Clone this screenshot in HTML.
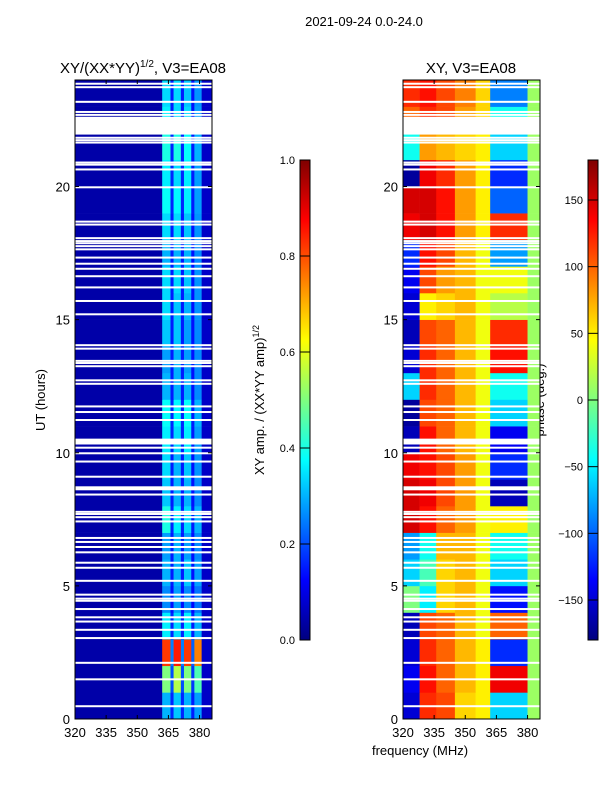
<!DOCTYPE html>
<html><head><meta charset="utf-8">
<style>
body{margin:0;background:#fff;}
svg{display:block;font-family:"Liberation Sans","DejaVu Sans",sans-serif;}
</style></head>
<body>
<svg id="fig" width="600" height="800" viewBox="0 0 600 800">
<defs>
<linearGradient id="jet" x1="0" y1="1" x2="0" y2="0">
<stop offset="0" stop-color="#00007f"/><stop offset="0.125" stop-color="#0000ff"/>
<stop offset="0.375" stop-color="#00ffff"/><stop offset="0.5" stop-color="#7fff7f"/>
<stop offset="0.625" stop-color="#ffff00"/><stop offset="0.875" stop-color="#ff0000"/>
<stop offset="1" stop-color="#7f0000"/>
</linearGradient>
</defs>
<text x="364" y="26" font-size="13" text-anchor="middle">2021-09-24 0.0-24.0</text>
<text x="143" y="73" font-size="15" text-anchor="middle">XY/(XX*YY)<tspan font-size="10" dy="-6">1/2</tspan><tspan dy="6">, V3=EA08</tspan></text>
<text x="471" y="73" font-size="15" text-anchor="middle">XY, V3=EA08</text>
<text x="45" y="400" font-size="13" text-anchor="middle" transform="rotate(-90 45 400)">UT (hours)</text>
<text x="420" y="755" font-size="13" text-anchor="middle">frequency (MHz)</text>
<text x="264" y="400" font-size="13" text-anchor="middle" transform="rotate(-90 264 400)">XY amp. / (XX*YY amp)<tspan font-size="9" dy="-5">1/2</tspan></text>
<text x="544" y="400" font-size="13" text-anchor="middle" transform="rotate(-90 544 400)">phase (deg.)</text>
<g id="g"></g>
</svg>
<script>
const freqTicks=[320,335,350,365,380];
const hourTicks=[0,5,10,15,20];
const ampTicks=[0.0,0.2,0.4,0.6,0.8,1.0];
const phaseTicks=[-150,-100,-50,0,50,100,150];
const ampFreqEdges=[320,362,366,367.5,371,372.5,376,377.5,381,386];
const ampRows=[
[0.04,0.3,0.16,0.32,0.16,0.3,0.15,0.28,0.07],
[0.04,0.5,0.2,0.55,0.2,0.5,0.18,0.45,0.07],
[0.04,0.82,0.25,0.85,0.25,0.82,0.22,0.75,0.07],
[0.04,0.36,0.16,0.34,0.16,0.36,0.15,0.3,0.07],
[0.04,0.26,0.14,0.28,0.14,0.26,0.13,0.24,0.07],
[0.04,0.3,0.15,0.3,0.15,0.32,0.14,0.28,0.07],
[0.04,0.28,0.15,0.3,0.15,0.28,0.14,0.26,0.07],
[0.04,0.4,0.16,0.36,0.16,0.34,0.15,0.3,0.07],
[0.04,0.32,0.15,0.3,0.15,0.3,0.14,0.26,0.07],
[0.04,0.34,0.15,0.3,0.15,0.32,0.14,0.27,0.07],
[0.04,0.36,0.16,0.34,0.16,0.36,0.15,0.28,0.07],
[0.04,0.38,0.16,0.37,0.16,0.38,0.15,0.3,0.07],
[0.04,0.3,0.15,0.3,0.15,0.3,0.14,0.26,0.07],
[0.04,0.28,0.15,0.3,0.15,0.28,0.14,0.26,0.07],
[0.04,0.32,0.15,0.32,0.15,0.28,0.14,0.26,0.07],
[0.04,0.34,0.15,0.32,0.15,0.3,0.14,0.27,0.07],
[0.04,0.34,0.15,0.34,0.15,0.32,0.14,0.27,0.07],
[0.04,0.3,0.15,0.3,0.15,0.3,0.14,0.26,0.07],
[0.04,0.34,0.15,0.34,0.15,0.32,0.14,0.27,0.07],
[0.04,0.38,0.16,0.37,0.16,0.36,0.15,0.28,0.07],
[0.04,0.36,0.16,0.34,0.16,0.36,0.15,0.28,0.07],
[0.04,0.4,0.16,0.4,0.16,0.38,0.15,0.3,0.07],
[0.04,0.36,0.15,0.34,0.15,0.34,0.14,0.28,0.07],
[0.04,0.34,0.15,0.34,0.15,0.32,0.14,0.27,0.07]];
const phaseFreqEdges=[320,328,336,345,355,362,380,386];
const phaseRows=[
[-150,120,110,60,50,-60,10],[-140,130,100,70,50,140,10],[-150,120,100,70,50,-120,10],
[-160,110,100,70,40,100,10],[0,-50,60,70,40,-130,10],[-60,-20,60,70,40,-60,10],
[-80,-40,70,70,40,-40,10],[150,130,100,80,40,50,10],[150,140,110,80,40,-160,10],
[140,130,110,80,40,-120,10],[-160,130,100,70,40,-140,10],[-170,110,100,70,40,-60,10],
[-60,120,100,70,40,-40,10],[-150,120,100,70,40,130,10],[-160,110,100,70,40,120,10],
[-150,50,60,70,40,20,10],[-140,110,80,70,40,40,10],[-120,130,110,70,40,-80,10],
[140,150,130,80,50,120,10],[150,150,130,80,50,-100,10],[-170,140,120,80,50,-120,10],
[-40,80,70,60,50,-60,10],[100,120,110,80,60,-40,10],[120,130,110,90,60,-90,10]];
const flaggedHours=[23.86,23.73,23.18,22.80,22.69,21.83,21.74,21.65,20.90,20.82,20.64,19.97,18.68,18.57,18.06,17.95,17.87,17.76,17.64,17.33,17.10,16.91,16.63,16.21,15.70,15.2,14.04,13.91,13.45,13.37,13.25,12.72,12.59,11.74,11.53,11.23,10.42,10.19,9.98,9.67,9.10,8.67,8.43,7.78,7.70,7.58,7.42,6.80,6.65,6.46,6.26,5.87,5.68,5.19,4.67,4.52,4.44,4.13,3.82,3.66,3.35,3.04,2.11,1.49,0.48];
const flaggedBlocks=[[21.95,22.62],[10.31,10.53],[8.59,8.74]];

const NS="http://www.w3.org/2000/svg";
const G=document.getElementById('g');
function mk(tag,attrs,parent){const e=document.createElementNS(NS,tag);for(const k in attrs)e.setAttribute(k,attrs[k]);(parent||G).appendChild(e);return e;}
const Y0=719,Y1=80;
const yH=h=>Y0-(h/24)*(Y0-Y1);
function xF(x0,f){return x0+(f-320)*(137/66);}
function jet(v){v=Math.max(0,Math.min(1,v));
 const r=Math.max(0,Math.min(1,1.5-Math.abs(4*v-3))),g=Math.max(0,Math.min(1,1.5-Math.abs(4*v-2))),b=Math.max(0,Math.min(1,1.5-Math.abs(4*v-1)));
 return `rgb(${Math.round(r*255)},${Math.round(g*255)},${Math.round(b*255)})`;}

function panel(x0,edges,rows,norm,name){
 const grp=mk('g',{});
 
 
 rows.forEach((row,hi)=>{row.forEach((v,fi)=>{
  const xa=xF(x0,edges[fi]),xb=xF(x0,edges[fi+1]);
  const r=mk('rect',{x:xa,y:yH(hi+1),width:xb-xa+0.3,height:yH(hi)-yH(hi+1)+0.3,fill:jet(norm(v))},grp);
  
  
 });});
 flaggedHours.forEach(h=>{const l=mk('rect',{x:x0,y:yH(h)-1,width:137,height:2,fill:'#fff'},grp);
  
  });
 flaggedBlocks.forEach(b=>{const l=mk('rect',{x:x0,y:yH(b[1]),width:137,height:yH(b[0])-yH(b[1]),fill:'#fff'},grp);
  
  });
 const fr=mk('rect',{x:x0,y:Y1,width:137,height:Y0-Y1,fill:'none',stroke:'#000','stroke-width':1});
 
 
 freqTicks.forEach(f=>{const x=xF(x0,f);
  mk('line',{x1:x,y1:Y0,x2:x,y2:Y0-4,stroke:'#000'});mk('line',{x1:x,y1:Y1,x2:x,y2:Y1+4,stroke:'#000'});
  const t=mk('text',{x:x,y:737,'font-size':13,'text-anchor':'middle'});t.textContent=f;
  
  });
 hourTicks.forEach(h=>{const y=yH(h);
  mk('line',{x1:x0,y1:y,x2:x0+4,y2:y,stroke:'#000'});mk('line',{x1:x0+137,y1:y,x2:x0+133,y2:y,stroke:'#000'});
  const t=mk('text',{x:x0-5,y:y+5,'font-size':13,'text-anchor':'end'});t.textContent=h;
  
  });
}
panel(75,ampFreqEdges,ampRows,v=>v,'amp');
panel(403,phaseFreqEdges,phaseRows,v=>(v+180)/360,'phase');

function cbar(x,ticks,lo,hi,name,fmt){
 const r=mk('rect',{x:x,y:160,width:10,height:480,fill:'url(#jet)',stroke:'#000'});
 
 
 ticks.forEach(v=>{const y=640-(v-lo)/(hi-lo)*480;
  mk('line',{x1:x,y1:y,x2:x+10,y2:y,stroke:'#000'});
  const t=mk('text',{x:x-5,y:y+4,'font-size':11,'text-anchor':'end'});t.textContent=fmt(v);
  
  });
}
cbar(300,ampTicks,0,1,'amp',v=>v.toFixed(1));
cbar(588,phaseTicks,-180,180,'phase',v=>v<0?'\u2212'+(-v):String(v));
</script>
</body></html>
